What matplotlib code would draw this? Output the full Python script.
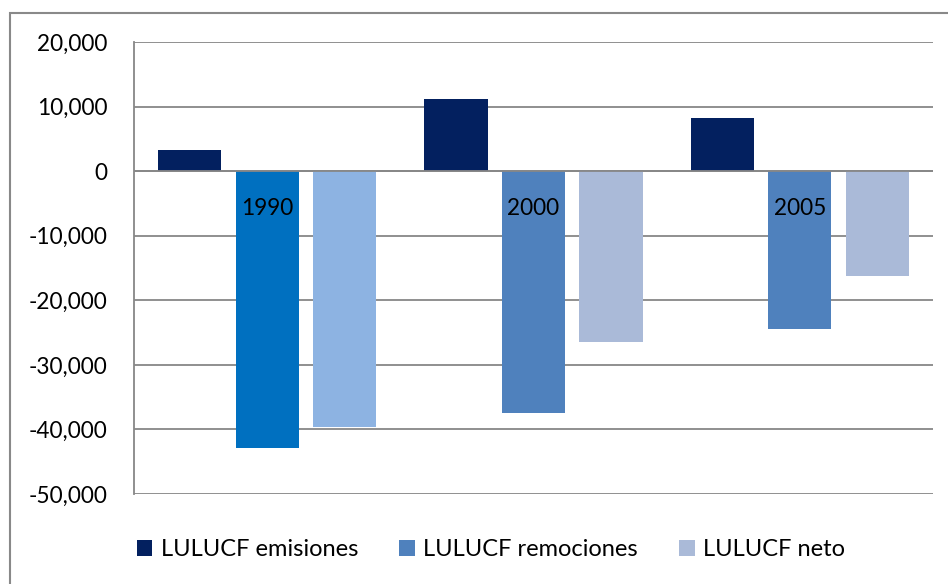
import numpy as np
import matplotlib
matplotlib.use("Agg")
import matplotlib.pyplot as plt
from matplotlib.patches import Rectangle, Patch
from matplotlib.ticker import FuncFormatter

plt.rcParams['font.family'] = ['Lato', 'DejaVu Sans']

# ---- data ----
years = ['1990', '2000', '2005']
series = ['LULUCF emisiones', 'LULUCF remociones', 'LULUCF neto']
emisiones = [3300, 11100, 8200]
remociones = [-42900, -37400, -24500]
neto = [-39600, -26500, -16200]

# 1990 is drawn in a different shade than the other years
colors_emis = ['#03205f', '#03205f', '#03205f']
colors_rem = ['#0070c0', '#4f81bd', '#4f81bd']
colors_neto = ['#8db3e2', '#aabad8', '#aabad8']
legend_colors = ['#03205f', '#4f81bd', '#aabad8']

W, H = 948, 584
fig = plt.figure(figsize=(W / 100, H / 100), dpi=100)
ax = fig.add_axes([134 / W, 1 - 494 / H, (933 - 134) / W, (494 - 42) / H])

x = np.arange(len(years))
bw = 0.237
step = 0.291
ax.bar(x - step, emisiones, bw, color=colors_emis, zorder=3)
ax.bar(x, remociones, bw, color=colors_rem, zorder=3)
ax.bar(x + step, neto, bw, color=colors_neto, zorder=3)

ax.set_xlim(-0.5, 2.5)
ax.set_ylim(-50000, 20000)
ax.set_yticks(np.arange(-50000, 20001, 10000))
ax.yaxis.set_major_formatter(FuncFormatter(lambda v, p: f'{int(v):,}'))
ax.tick_params(axis='y', length=0, pad=19, labelsize=16.3)
ax.set_xticks([])
ax.grid(axis='y', color='#878787', linewidth=1.3, zorder=1)
ax.axhline(0, color='#878787', linewidth=1.3, zorder=4)

for s in ['top', 'right', 'bottom']:
    ax.spines[s].set_visible(False)
ax.spines['left'].set_color('#878787')
ax.spines['left'].set_linewidth(1.3)

# category labels just below the zero line
for i, yr in enumerate(years):
    ax.annotate(yr, (i, 0), xytext=(0, -27), textcoords='offset points',
                ha='center', va='center', fontsize=16.3, zorder=5)

# outer chart frame (cut at the right and bottom edges)
fig.patches.append(Rectangle((10 / W, -0.1), 1.2, 1 - 13 / H + 0.1,
                             transform=fig.transFigure, fill=False,
                             edgecolor='#898989', linewidth=1.5))

handles = [Patch(facecolor=c) for c in legend_colors]
fig.legend(handles, series, loc='center', bbox_to_anchor=(491 / W, 1 - 550 / H),
           ncol=3, frameon=False, fontsize=17, handlelength=0.66, handleheight=0.66,
           handletextpad=0.35, columnspacing=1.75)

fig.savefig('out.png', dpi=100)
